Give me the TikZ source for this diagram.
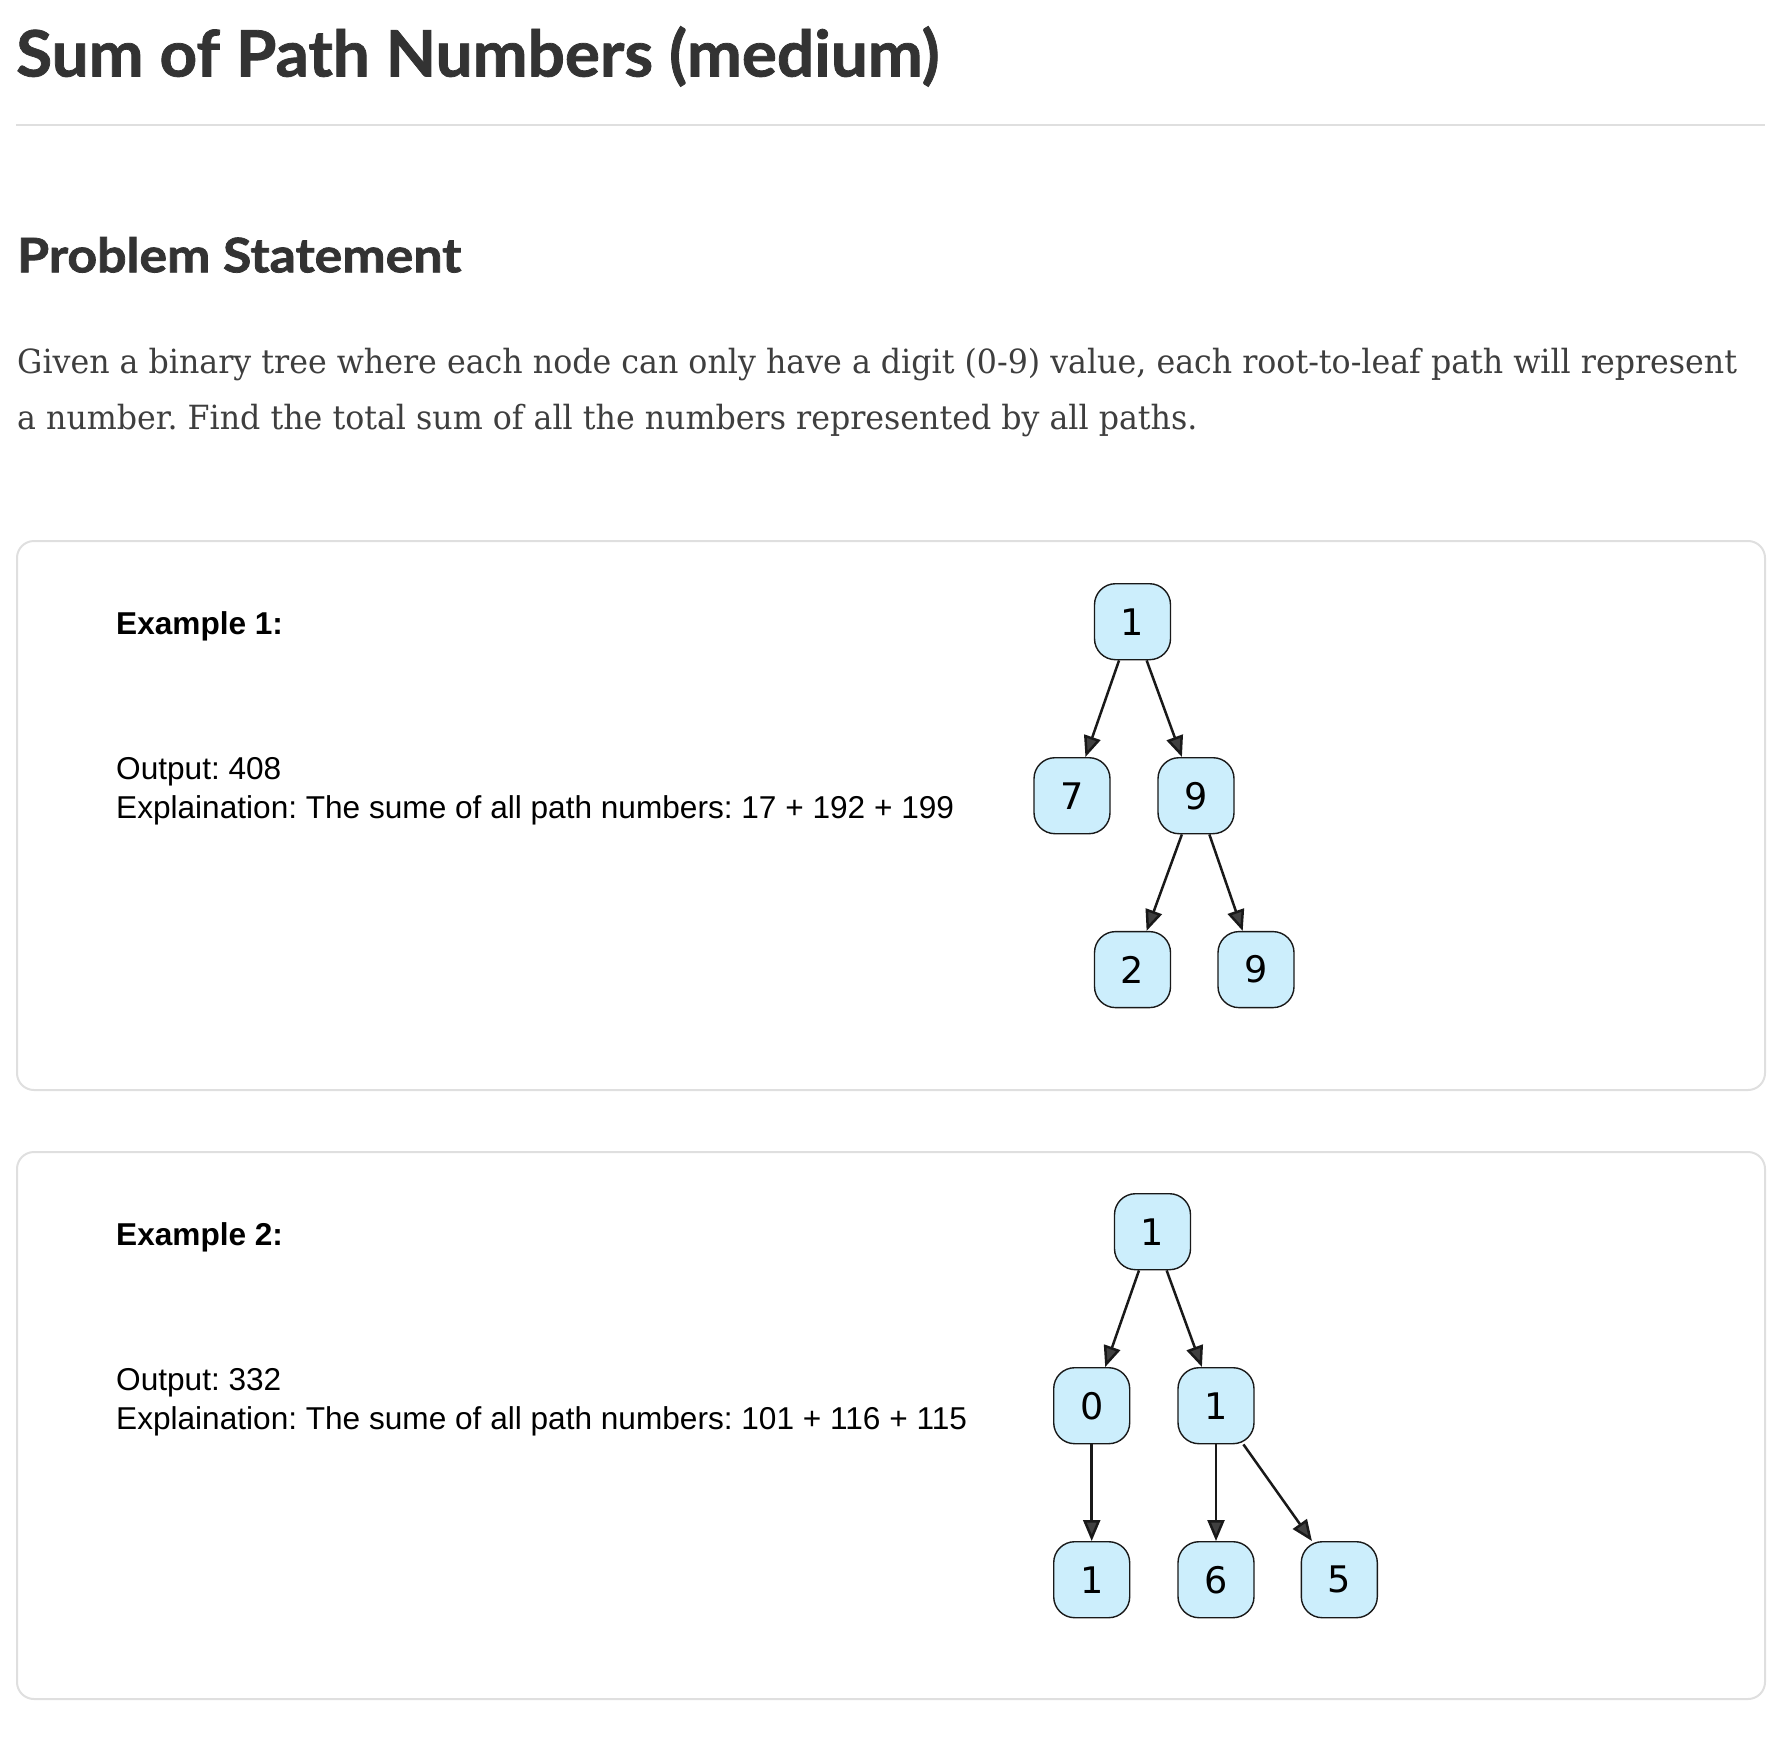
\documentclass[tikz,border=0pt]{standalone}
\usepackage{fontspec}
\setmainfont{Liberation Sans}
\newfontfamily\headfont[BoldFeatures={FakeBold=1.2,FakeStretch=1.025}]{Lato}
\newfontfamily\subheadfont[BoldFeatures={FakeBold=1.6,FakeStretch=1.09}]{Lato}
\newfontfamily\bodyfont[FakeStretch=0.951]{DejaVu Serif}
\newfontfamily\digitfont{DejaVu Sans}
\usetikzlibrary{arrows.meta}
\definecolor{headgray}{HTML}{333333}
\definecolor{bodygray}{HTML}{3E3E3E}
\definecolor{rulegray}{HTML}{DFDFDF}
\definecolor{nodeblue}{HTML}{CCEEFC}
\definecolor{tipgray}{HTML}{404040}
\tikzset{
  treenode/.style={draw=black!90, line width=1.4pt, fill=nodeblue, rounded corners=21pt,
    minimum width=76pt, minimum height=76pt, inner sep=0pt,
    font=\digitfont\fontsize{36.6}{36.6}\selectfont},
  treeedge/.style={line width=2.5pt, draw=black!90, -{Triangle[length=21pt,width=17pt,fill=tipgray]}},
  exbox/.style={draw=rulegray, line width=2pt, rounded corners=17pt},
  plain/.style={anchor=base west, inner sep=0pt},
  extext/.style={plain, font=\fontsize{31.6}{31.6}\selectfont},
}
\frenchspacing
\begin{document}
\begin{tikzpicture}[x=1pt, y=-1pt]
    \useasboundingbox (0,0) rectangle (1776,1736);
    % Heading and statement
    \node[plain, text=headgray, font=\headfont\bfseries\fontsize{64}{64}\selectfont] (title) at (16,76.5) {Sum of Path Numbers (medium)};
    \draw[rulegray, line width=2pt] (16,125) -- (1765,125);
    \node[plain, text=headgray, font=\subheadfont\bfseries\fontsize{47.5}{47.5}\selectfont] (stmt) at (17,272.3) {Problem Statement};
    \node[plain, text=bodygray, font=\bodyfont\fontsize{33.3}{33.3}\selectfont] (line1) at (17,373.3)
        {Given a binary tree where each node can only have a digit (0-9) value, each root-to-leaf path will represent};
    \node[plain, text=bodygray, font=\bodyfont\fontsize{33.3}{33.3}\selectfont] (line2) at (17,429.3)
        {a number. Find the total sum of all the numbers represented by all paths.};
    % Example boxes
    \draw[exbox] (17,541) rectangle (1765,1090);
    \draw[exbox] (17,1152) rectangle (1765,1699);
    \node[extext, font=\bfseries\fontsize{31.6}{31.6}\selectfont] (ex1) at (116,634) {Example 1:};
    \node[extext] (out1) at (116,779.3) {Output: 408};
    \node[extext] (expl1) at (116,818.3) {Explaination: The sume of all path numbers: 17 + 192 + 199};
    \node[extext, font=\bfseries\fontsize{31.6}{31.6}\selectfont] (ex2) at (116,1245) {Example 2:};
    \node[extext] (out2) at (116,1390.3) {Output: 332};
    \node[extext] (expl2) at (116,1429.3) {Explaination: The sume of all path numbers: 101 + 116 + 115};
    % Tree 1
    \node[treenode] (a1) at (1132.5,621.7) {1};
    \node[treenode] (a7) at (1072,795.7) {7};
    \node[treenode] (a9) at (1196,795.7) {9};
    \node[treenode] (a2) at (1132.5,969.6) {2};
    \node[treenode] (a99) at (1256,969.6) {9};
    \foreach \p/\c in {a1/a7, a1/a9, a9/a2, a9/a99}
        \draw[treeedge] (\p) -- (\c);
    % Tree 2
    \node[treenode] (b1) at (1152.5,1231.7) {1};
    \node[treenode] (b0) at (1091.7,1405.7) {0};
    \node[treenode] (bm) at (1216,1405.7) {1};
    \node[treenode] (bl) at (1091.7,1579.7) {1};
    \node[treenode] (b6) at (1216,1579.7) {6};
    \node[treenode] (b5) at (1339.3,1579.7) {5};
    \foreach \p/\c in {b1/b0, b1/bm, b0/bl, bm/b6, bm/b5}
        \draw[treeedge] (\p) -- (\c);
\end{tikzpicture}
\end{document}
